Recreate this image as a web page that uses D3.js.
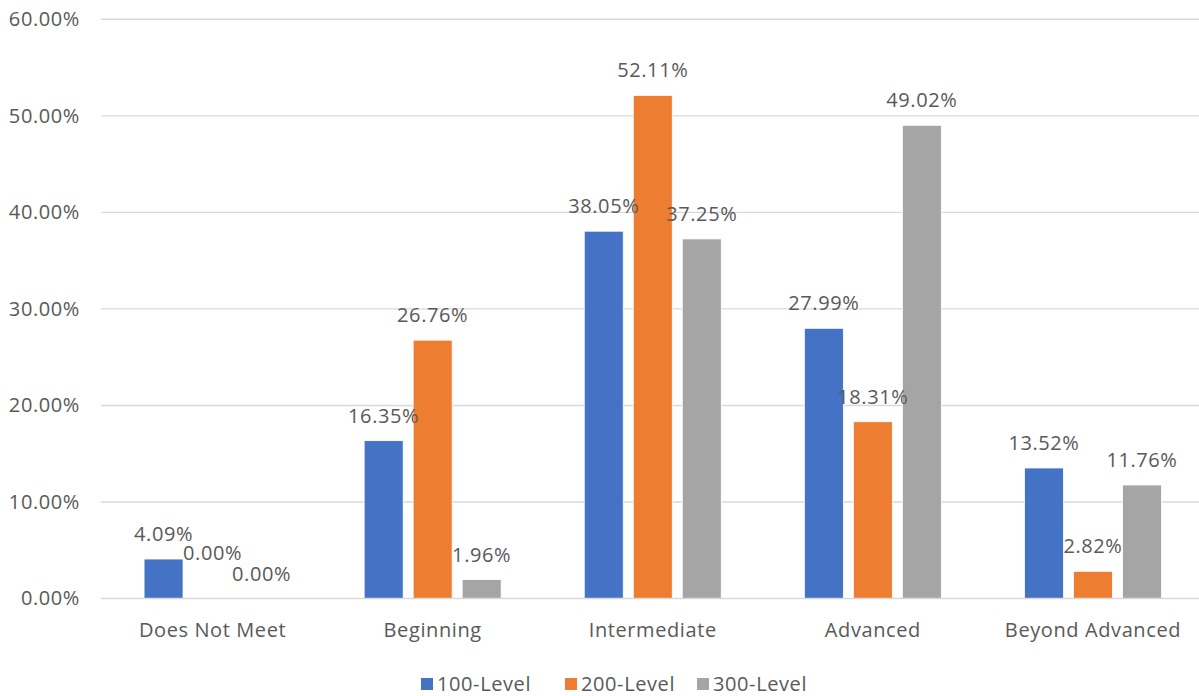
<!DOCTYPE html>
<html>
<head>
<meta charset="utf-8">
<script src="https://cdn.jsdelivr.net/npm/d3@7/dist/d3.min.js"></script>
<style>
  html, body { margin: 0; padding: 0; background: #fff; }
  svg { display: block; }
  text { font-family: "Open Sans", "DejaVu Sans", sans-serif; fill: #595959; }
</style>
</head>
<body>
<svg id="chart" width="1199" height="696"></svg>
<script>
// Proficiency levels on the x axis
const categories = ["Does Not Meet", "Beginning", "Intermediate", "Advanced", "Beyond Advanced"];
// Course levels (series)
const seriesNames = ["100-Level", "200-Level", "300-Level"];
// Percent of students per proficiency level
const level100 = [4.09, 16.35, 38.05, 27.99, 13.52];
const level200 = [0.00, 26.76, 52.11, 18.31, 2.82];
const level300 = [0.00, 1.96, 37.25, 49.02, 11.76];
// Y axis ticks (percent)
const yTicks = [0, 10, 20, 30, 40, 50, 60];

const seriesValues = [level100, level200, level300];
const colors = ["#4472C4", "#ED7D31", "#A5A5A5"];

// Label nudges (in px) so the two zero-value labels do not overlap
const labelNudge = { "0-1": { dx: 0, dy: -21 } };

const svg = d3.select("#chart");
const plot = { left: 101, right: 1199, top: 19.3, bottom: 598.5 };
const FONT = 20, SPACING = 0.6;

const x0 = d3.scaleBand().domain(categories).range([102.5, 1203]).paddingInner(0).paddingOuter(0);
const groupWidth = 137;
const x1 = d3.scaleBand().domain(seriesNames).range([-groupWidth / 2, groupWidth / 2]).paddingInner(10 / 49).paddingOuter(0);
const y = d3.scaleLinear().domain([0, 60]).range([plot.bottom, plot.top]);

// Gridlines
svg.append("g").selectAll("line").data(yTicks.filter(t => t > 0)).join("line")
  .attr("x1", plot.left).attr("x2", plot.right)
  .attr("y1", d => y(d)).attr("y2", d => y(d))
  .attr("stroke", "#d9d9d9").attr("stroke-width", 1.4);

// Y axis labels
const yAxis = d3.axisLeft(y).tickValues(yTicks).tickFormat(d => d.toFixed(2) + "%").tickSize(0).tickPadding(21);
const gy = svg.append("g").attr("transform", `translate(${plot.left},0)`).call(yAxis);
gy.select(".domain").remove();
gy.selectAll("text").attr("font-size", FONT).attr("letter-spacing", SPACING).attr("fill", "#595959")
  .attr("font-family", "'Open Sans', sans-serif");

// Bars
const rows = [];
categories.forEach((c, ci) => {
  seriesNames.forEach((s, si) => {
    rows.push({ c, ci, s, si, v: seriesValues[si][ci] });
  });
});

const barX = d => x0(d.c) + x0.bandwidth() / 2 + x1(d.s);

svg.append("g").selectAll("rect").data(rows).join("rect")
  .attr("x", barX)
  .attr("y", d => y(d.v))
  .attr("width", x1.bandwidth())
  .attr("height", d => y(0) - y(d.v))
  .attr("fill", d => colors[d.si])
  .attr("stroke", "#ffffff").attr("stroke-width", 0.8);

// X axis baseline and category labels
const xAxis = d3.axisBottom(x0).tickSize(0).tickPadding(24);
const gx = svg.append("g").attr("transform", `translate(0,${plot.bottom})`).call(xAxis);
gx.select(".domain").attr("d", `M${plot.left},0H${plot.right}`)
  .attr("stroke", "#d9d9d9").attr("stroke-width", 1.4);
gx.selectAll("text").attr("font-size", FONT).attr("letter-spacing", SPACING).attr("fill", "#595959")
  .attr("font-family", "'Open Sans', sans-serif");

// Data labels
svg.append("g").selectAll("text").data(rows).join("text")
  .attr("x", d => barX(d) + x1.bandwidth() / 2 + ((labelNudge[d.ci + "-" + d.si] || {}).dx || 0))
  .attr("y", d => y(d.v) - 25 + ((labelNudge[d.ci + "-" + d.si] || {}).dy || 0))
  .attr("dy", "0.35em")
  .attr("text-anchor", "middle")
  .attr("font-size", FONT).attr("letter-spacing", SPACING)
  .text(d => d.v.toFixed(2) + "%");

// Legend
const legendItems = [
  { name: seriesNames[0], color: colors[0], x: 421 },
  { name: seriesNames[1], color: colors[1], x: 565 },
  { name: seriesNames[2], color: colors[2], x: 697 }
];
const lg = svg.append("g").selectAll("g").data(legendItems).join("g")
  .attr("transform", d => `translate(${d.x},684)`);
lg.append("rect").attr("x", 0).attr("y", -6).attr("width", 12).attr("height", 12).attr("fill", d => d.color);
lg.append("text").attr("x", 16).attr("dy", "0.35em").attr("font-size", FONT).attr("letter-spacing", SPACING).text(d => d.name);
</script>
</body>
</html>
